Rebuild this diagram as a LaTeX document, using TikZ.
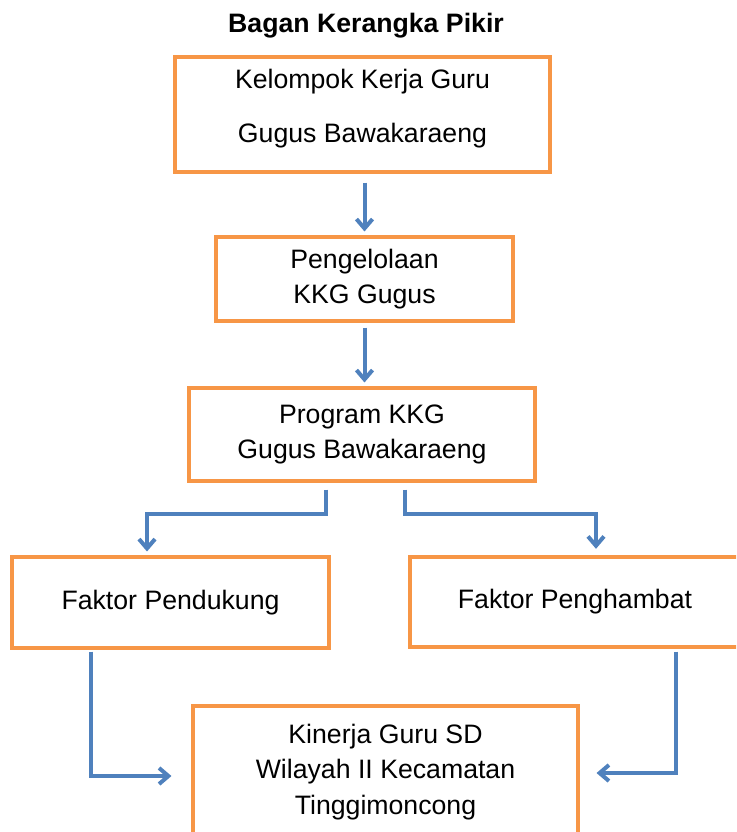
\documentclass[tikz,border=0pt]{standalone}
\usepackage{fontspec}
\setmainfont{Liberation Sans}
\usetikzlibrary{arrows.meta,calc}

\begin{document}
\begin{tikzpicture}[x=0.75pt, y=-0.75pt, >={Straight Barb[length=7pt,width=12pt]}, font=\fontsize{20}{26.5}\selectfont]

	% ==========================================
	% 1. WARNA
	% ==========================================
	\definecolor{kotakcol}{RGB}{247, 150, 70}   % Oranye garis kotak
	\definecolor{panahcol}{RGB}{79, 129, 189}   % Biru panah

	% ==========================================
	% 2. GAYA
	% ==========================================
	\tikzset{
		kotak/.style={draw=kotakcol, line width=2.3pt, fill=white, inner sep=0pt, align=center},
		alur/.style={draw=panahcol, line width=3pt, ->},
	}

	% ==========================================
	% 3. LATAR (ukuran gambar)
	% ==========================================
	\clip (0,0) rectangle (736,832);
	\fill[white] (0,0) rectangle (736,832);

	% ==========================================
	% 4. JUDUL
	% ==========================================
	\node[font=\fontsize{20}{24}\selectfont\bfseries] (judul) at (366,26) {Bagan Kerangka Pikir};

	% ==========================================
	% 5. KOTAK-KOTAK
	% ==========================================
	% Kotak atas
	\node[kotak, minimum width=281.25pt, minimum height=86.25pt, text depth=13pt] (kkg) at (362.5,114.5)
		{Kelompok Kerja Guru\\[13.5pt]Gugus Bawakaraeng};

	% Pengelolaan
	\node[kotak, minimum width=222.75pt, minimum height=63pt] (kelola) at (364.5,279)
		{Pengelolaan\\KKG Gugus};

	% Program
	\node[kotak, minimum width=259.5pt, minimum height=69.75pt] (program) at (362,434.5)
		{Program KKG\\Gugus Bawakaraeng};

	% Faktor kiri dan kanan
	\node[kotak, minimum width=237.75pt, minimum height=68.25pt] (dukung) at (170.5,602.5)
		{Faktor Pendukung};
	\node[kotak, minimum width=247.5pt, minimum height=67.5pt] (hambat) at (575,602)
		{Faktor Penghambat};

	% Kotak bawah (terpotong di tepi bawah)
	\node[kotak, minimum width=288.75pt, minimum height=99pt] (kinerja) at (385.5,772)
		{Kinerja Guru SD\\Wilayah II Kecamatan\\Tinggimoncong};

	% ==========================================
	% 6. PANAH
	% ==========================================
	\draw[alur, shorten <=6.75pt, shorten >=3pt] (kkg.south -| kelola.north) -- (kelola.north);
	\draw[alur, shorten <=3.75pt, shorten >=3pt] (kelola.south) -- (kelola.south |- program.north);

	% Cabang ke faktor
	\draw[alur, shorten >=3pt] ($(program.south)+(-36,7)$) -- ++(0,24) -| ($(dukung.north)+(-23.5,0)$);
	\draw[alur, shorten >=5pt] ($(program.south)+(43,7)$) -- ++(0,24) -| ($(hambat.north)+(21,0)$);

	% Ke kotak bawah
	\draw[alur] ($(dukung.south)+(-79.5,2)$) |- ($(kinerja.west)+(-20,4)$);
	\draw[alur] ($(hambat.south)+(101,3)$) |- ($(kinerja.east)+(17,1)$);

\end{tikzpicture}
\end{document}
